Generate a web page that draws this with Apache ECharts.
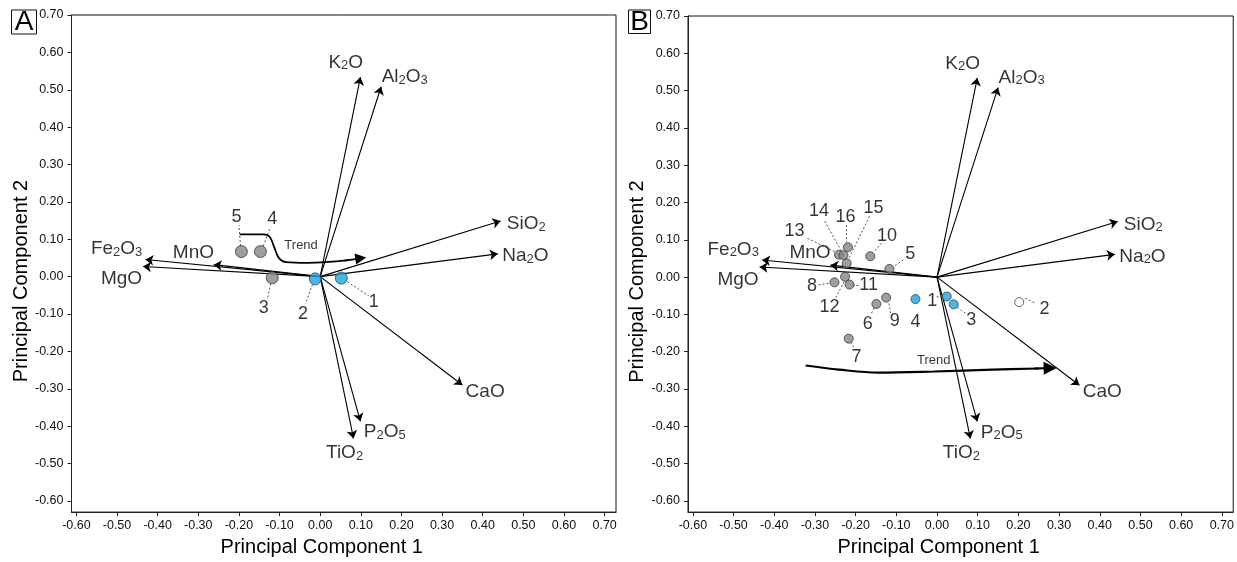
<!DOCTYPE html>
<html><head><meta charset="utf-8">
<script src="https://cdn.jsdelivr.net/npm/echarts@6/dist/echarts.min.js"></script>
<style>html,body{margin:0;padding:0;background:#fff}#c{width:1237px;height:562px}</style>
</head><body><div id="c"></div><script>
// ---------- data ----------
const pcTicks = [-0.60,-0.50,-0.40,-0.30,-0.20,-0.10,0.00,0.10,0.20,0.30,0.40,0.50,0.60,0.70];

const oxideLabels = ['{n|K}{s|2}{n|O}','{n|Al}{s|2}{n|O}{s|3}','{n|SiO}{s|2}','{n|Na}{s|2}{n|O}','{n|CaO}',
                     '{n|P}{s|2}{n|O}{s|5}','{n|TiO}{s|2}','{n|Fe}{s|2}{n|O}{s|3}','{n|MgO}','{n|MnO}'];
const loadPC1 = [0.099, 0.150, 0.444, 0.437, 0.350, 0.099, 0.082, -0.430, -0.436, -0.262];
const loadPC2 = [0.534, 0.508, 0.149, 0.061, -0.290, -0.387, -0.433, 0.046, 0.027, 0.032];

// Panel A samples
const idsA = ['1','2','3','4','5'];
const pc1A = [0.052, -0.012, -0.118, -0.147, -0.194];
const pc2A = [-0.004, -0.006, -0.003, 0.067, 0.067];
const typeA = ['blue','blue','grey','grey','grey'];
const trendA = [[-0.198,0.113],[-0.140,0.113],[-0.124,0.106],[-0.113,0.078],[-0.101,0.049],[-0.084,0.039],[-0.030,0.037],[0.070,0.044]];
const trendAHead = [[0.060,0.043],[0.100,0.049]];

// Panel B samples
const idsB = ['1','2','3','4','5','6','7','8','9','10','11','12','13','14','15','16'];
const pc1B = [0.024, 0.202, 0.041, -0.053, -0.117, -0.149, -0.217, -0.252, -0.125, -0.164, -0.215, -0.226, -0.241, -0.230, -0.222, -0.219];
const pc2B = [-0.052, -0.067, -0.073, -0.059, 0.022, -0.072, -0.165, -0.014, -0.055, 0.056, -0.020, 0.001, 0.060, 0.059, 0.037, 0.080];
const typeB = ['blue','open','blue','blue','grey','grey','grey','grey','grey','grey','grey','grey','grey','grey','grey','grey'];
const trendB = [[-0.323,-0.237],[-0.241,-0.248],[-0.144,-0.256],[-0.008,-0.253],[0.137,-0.248],[0.250,-0.245]];
const trendBHead = [[0.240,-0.245],[0.278,-0.244]];

// ---------- layout (label anchors, leader lines) ----------
const oxideLabelX = [0.063, 0.208, 0.507, 0.505, 0.406, 0.159, 0.060, -0.501, -0.489, -0.312];
const oxideLabelY = [0.573, 0.534, 0.141, 0.055, -0.308, -0.416, -0.472, 0.074, -0.006, 0.065];
const labPosA = [[0.132,-0.068],[-0.042,-0.099],[-0.139,-0.085],[-0.118,0.154],[-0.206,0.159]];
const leadA = [[0.067,-0.014,0.119,-0.051],[-0.019,-0.021,-0.036,-0.072],[-0.122,-0.019,-0.130,-0.062],
               [-0.140,0.082,-0.122,0.133],[-0.196,0.082,-0.200,0.138]];
const labPosB = [[-0.012,-0.065],[0.264,-0.086],[0.084,-0.114],[-0.053,-0.121],[-0.066,0.063],[-0.170,-0.125],
                 [-0.198,-0.215],[-0.307,-0.024],[-0.104,-0.118],[-0.123,0.111],[-0.168,-0.021],[-0.264,-0.079],
                 [-0.350,0.123],[-0.290,0.176],[-0.156,0.185],[-0.225,0.162]];
const leadB = [[-0.001,-0.053,0.016,-0.052],[0.217,-0.057,0.242,-0.070],[0.050,-0.081,0.070,-0.097],null,
               [-0.083,0.046,-0.107,0.028],[-0.161,-0.097,-0.154,-0.081],[-0.212,-0.174,-0.203,-0.190],
               [-0.291,-0.021,-0.262,-0.016],[-0.114,-0.097,-0.119,-0.065],[-0.136,0.091,-0.156,0.067],
               [-0.208,-0.023,-0.193,-0.023],[-0.249,-0.055,-0.227,-0.010],[-0.318,0.104,-0.249,0.067],
               [-0.276,0.150,-0.237,0.073],[-0.166,0.163,-0.217,0.049],[-0.222,0.139,-0.222,0.094]];
const trendTxtA = [-0.047, 0.083];
const trendTxtB = [-0.008, -0.224];

// ---------- styles ----------
const FONT = '"Liberation Sans", Arial, sans-serif';
const INK = '#000';
const X_MIN = -0.612, X_MAX = 0.728, Y_MIN = -0.630, Y_MAX = 0.700;
const markStyle = {
  grey: {color:'#868686', borderColor:'#3a3a3a', borderWidth:1},
  blue: {color:'#1fa3dd', borderColor:'#24485c', borderWidth:1},
  open: {color:'#ffffff', borderColor:'#444444', borderWidth:1}
};

function xAxisCfg(gi){
  return {type:'value', gridIndex:gi, min:X_MIN, max:X_MAX,
    name:'Principal Component 1', nameLocation:'middle', nameGap:20,
    nameTextStyle:{fontSize:20, color:INK, fontFamily:FONT, padding:[0,44,0,0]},
    axisLine:{onZero:false, lineStyle:{color:'#222', width:1}},
    axisTick:{show:true, length:4, customValues:pcTicks, lineStyle:{color:'#222'}},
    axisLabel:{customValues:pcTicks, formatter:v=>v.toFixed(2), fontSize:12.5, color:'#111', margin:7, fontFamily:FONT},
    splitLine:{show:false}};
}
function yAxisCfg(gi){
  return {type:'value', gridIndex:gi, min:Y_MIN, max:Y_MAX,
    name:'Principal Component 2', nameLocation:'middle', nameGap:37,
    nameTextStyle:{fontSize:20, color:INK, fontFamily:FONT, padding:[0,35,0,0]},
    axisLine:{onZero:false, lineStyle:{color:'#222', width:1}},
    axisTick:{show:true, length:4, customValues:pcTicks, lineStyle:{color:'#222'}},
    axisLabel:{customValues:pcTicks, formatter:v=>v.toFixed(2), fontSize:12.5, color:'#111', margin:8, fontFamily:FONT},
    splitLine:{show:false}};
}

function panelSeries(gi, ids, pc1, pc2, types, labPos, leads, trend, trendHead, trendTxt, markSize, trendW, headSize){
  const ax = {xAxisIndex:gi, yAxisIndex:gi};
  const s = [];
  // loading vectors
  s.push(Object.assign({type:'lines', coordinateSystem:'cartesian2d', silent:true, z:3,
    symbol:['none','arrow'], symbolSize:8,
    lineStyle:{color:'#000', width:1.1, opacity:1, curveness:0},
    data: loadPC1.map((x,i)=>({coords:[[0,0],[x, loadPC2[i]]]}))}, ax));
  // oxide labels
  s.push(Object.assign({type:'scatter', silent:true, z:6, symbolSize:1, itemStyle:{color:'rgba(0,0,0,0)'},
    label:{show:true, position:'inside', formatter:p=>p.name, color:INK,
      rich:{n:{fontSize:19, fontFamily:FONT, color:INK, verticalAlign:'bottom'},
            s:{fontSize:13, fontFamily:FONT, color:INK, verticalAlign:'bottom'}}},
    data: oxideLabels.map((t,i)=>({name:t, value:[oxideLabelX[i], oxideLabelY[i]]}))}, ax));
  // leader lines
  s.push(Object.assign({type:'lines', coordinateSystem:'cartesian2d', silent:true, z:4, symbol:'none',
    lineStyle:{color:'#444', width:0.9, type:[2,2], opacity:1},
    data: leads.filter(d=>d).map(d=>({coords:[[d[0],d[1]],[d[2],d[3]]]}))}, ax));
  // trend curve
  s.push(Object.assign({type:'line', silent:true, z:5, symbol:'none', smooth:0.35,
    lineStyle:{color:'#000', width:trendW}, data: trend}, ax));
  s.push(Object.assign({type:'lines', coordinateSystem:'cartesian2d', silent:true, z:5,
    symbol:['none','triangle'], symbolSize:headSize,
    lineStyle:{color:'#000', width:trendW, opacity:1},
    data:[{coords:trendHead}]}, ax));
  s.push(Object.assign({type:'scatter', silent:true, z:6, symbolSize:1, itemStyle:{color:'rgba(0,0,0,0)'},
    label:{show:true, position:'inside', formatter:'Trend', fontSize:13, fontFamily:FONT, color:INK},
    data:[trendTxt]}, ax));
  // sample markers
  s.push(Object.assign({type:'scatter', silent:true, z:8, symbol:'circle', symbolSize:markSize,
    data: ids.map((id,i)=>({name:id, value:[pc1[i], pc2[i]], itemStyle:markStyle[types[i]]}))}, ax));
  // sample labels
  s.push(Object.assign({type:'scatter', silent:true, z:9, symbolSize:1, itemStyle:{color:'rgba(0,0,0,0)'},
    label:{show:true, position:'inside', formatter:p=>p.name, fontSize:18, fontFamily:FONT, color:INK},
    data: ids.map((id,i)=>({name:id, value:labPos[i]}))}, ax));
  return s;
}

const chart = echarts.init(document.getElementById('c'), null, {renderer:'canvas'});
chart.setOption({
  animation:false,
  backgroundColor:'#ffffff',
  grid:[
    {left:71.5, top:15, width:544.5, height:499.5, show:true, borderColor:'#111', borderWidth:1, backgroundColor:'transparent'},
    {left:688, top:16, width:545.3, height:501.5, show:true, borderColor:'#111', borderWidth:1, backgroundColor:'transparent'}
  ],
  xAxis:[xAxisCfg(0), xAxisCfg(1)],
  yAxis:[yAxisCfg(0), yAxisCfg(1)],
  graphic:[
    {type:'rect', shape:{x:11.5, y:10, width:25, height:24}, style:{fill:'#fff', stroke:'#111', lineWidth:1}},
    {type:'text', x:24, y:22.5, style:{text:'A', fontSize:28, fontFamily:FONT, fill:INK, align:'center', verticalAlign:'middle'}},
    {type:'rect', shape:{x:628.5, y:10, width:22, height:23.5}, style:{fill:'#fff', stroke:'#111', lineWidth:1}},
    {type:'text', x:639.5, y:22.5, style:{text:'B', fontSize:28, fontFamily:FONT, fill:INK, align:'center', verticalAlign:'middle'}}
  ],
  series:[].concat(
    panelSeries(0, idsA, pc1A, pc2A, typeA, labPosA, leadA, trendA, trendAHead, trendTxtA, 12, 1.8, 11),
    panelSeries(1, idsB, pc1B, pc2B, typeB, labPosB, leadB, trendB, trendBHead, trendTxtB, 9, 2.2, 13)
  )
});
</script></body></html>
